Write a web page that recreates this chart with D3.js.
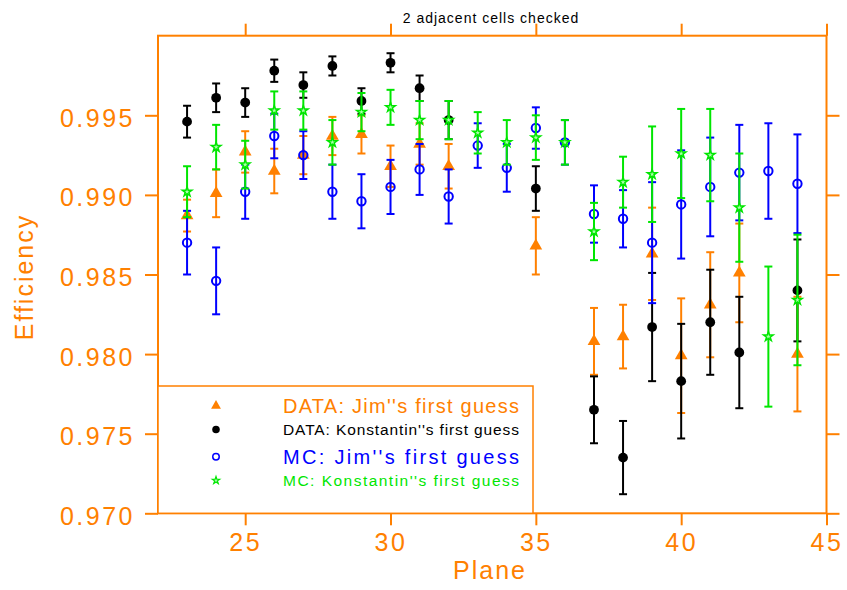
<!DOCTYPE html>
<html>
<head>
<meta charset="utf-8">
<script src="https://cdn.jsdelivr.net/npm/d3@7"></script>
<style>
  body { margin: 0; background: #fff; }
  svg { display: block; }
</style>
</head>
<body>
<script>
// plane numbers
var planes = [23, 24, 25, 26, 27, 28, 29, 30, 31, 32, 33, 34, 35, 36, 37, 38, 39, 40, 41, 42, 43, 44];

// DATA: Jim''s first guess
var dataJim    = [0.9887, 0.9901, 0.9927, 0.9915, 0.9925, 0.9937, 0.9938, 0.9918, 0.9932, 0.9918, null, null, 0.9868, null, 0.9808, 0.9811, 0.9863, 0.9799, 0.9831, 0.9851, null, 0.9800];
var dataJimErr = [0.0010, 0.0015, 0.0013, 0.0014, 0.0012, 0.0012, 0.0012, 0.0013, 0.0013, 0.0014, null, null, 0.0018, null, 0.0021, 0.0020, 0.0029, 0.0036, 0.0033, 0.0031, null, 0.0036];

// DATA: Konstantin''s first guess
var dataKon    = [0.9946, 0.9961, 0.9958, 0.9978, 0.9969, 0.9981, 0.9959, 0.9983, 0.9967, 0.9947, null, null, 0.9904, null, 0.9765, 0.9735, 0.9817, 0.9783, 0.9820, 0.9801, null, 0.9840];
var dataKonErr = [0.0010, 0.0009, 0.0009, 0.0007, 0.0008, 0.0006, 0.0008, 0.0006, 0.0008, 0.0012, null, null, 0.0014, null, 0.0021, 0.0023, 0.0034, 0.0036, 0.0033, 0.0035, null, 0.0032];

// MC: Jim''s first guess
var mcJim    = [0.9870, 0.9846, 0.9902, 0.9937, 0.9925, 0.9902, 0.9896, 0.9905, 0.9916, 0.9899, 0.9931, 0.9917, 0.9942, 0.9933, 0.9888, 0.9885, 0.9870, 0.9894, 0.9905, 0.9914, 0.9915, 0.9907];
var mcJimErr = [0.0020, 0.0021, 0.0017, 0.0014, 0.0015, 0.0017, 0.0017, 0.0017, 0.0016, 0.0017, 0.0014, 0.0015, 0.0013, 0.0014, 0.0018, 0.0018, 0.0038, 0.0034, 0.0031, 0.0030, 0.0030, 0.0031];

// MC: Konstantin''s first guess
var mcKon    = [0.9902, 0.9930, 0.9919, 0.9953, 0.9953, 0.9933, 0.9952, 0.9955, 0.9947, 0.9947, 0.9939, 0.9933, 0.9936, 0.9933, 0.9877, 0.9908, 0.9913, 0.9926, 0.9925, 0.9892, 0.9811, 0.9834];
var mcKonErr = [0.0016, 0.0014, 0.0015, 0.0012, 0.0012, 0.0014, 0.0012, 0.0011, 0.0012, 0.0012, 0.0013, 0.0014, 0.0014, 0.0014, 0.0018, 0.0016, 0.0030, 0.0028, 0.0029, 0.0034, 0.0044, 0.0041];

var xTicks = [25, 30, 35, 40, 45];
var yTicks = [0.970, 0.975, 0.980, 0.985, 0.990, 0.995];

var orange = "#ff8000";
var font = "'Liberation Sans', Arial, sans-serif";

var svgWidth = 847;
var svgHeight = 590;

var svg = d3.select("body").append("svg").attr("width", svgWidth).attr("height", svgHeight);

var x = d3.scaleLinear().domain([22, 45]).range([158, 826.5]);
var y = d3.scaleLinear().domain([0.970, 1.000]).range([513.3, 35.7]);

// frame
svg.append("rect")
    .attr("x", x(22)).attr("y", y(1.0))
    .attr("width", x(45) - x(22)).attr("height", y(0.970) - y(1.0))
    .attr("fill", "none").attr("stroke", orange).attr("stroke-width", 2);

// axes
function styleAxis(g) {
    g.select(".domain").remove();
    g.selectAll("line").attr("stroke", orange).attr("stroke-width", 2);
    g.selectAll("text")
        .attr("fill", orange)
        .style("font-family", font)
        .style("font-size", "25px")
        .style("letter-spacing", "2.5px");
}

svg.append("g").attr("transform", "translate(0," + y(0.970) + ")")
    .call(d3.axisBottom(x).tickValues(xTicks).tickSize(12).tickPadding(8).tickFormat(d3.format("d")))
    .call(styleAxis);

svg.append("g").attr("transform", "translate(0," + y(1.0) + ")")
    .call(d3.axisTop(x).tickValues(xTicks).tickSize(12).tickFormat(""))
    .call(styleAxis);

svg.append("g").attr("transform", "translate(" + x(22) + ",0)")
    .call(d3.axisLeft(y).tickValues(yTicks).tickSize(13).tickPadding(10).tickFormat(d3.format(".3f")))
    .call(styleAxis)
    .selectAll("text").attr("dy", "0.44em");

svg.append("g").attr("transform", "translate(" + x(45) + ",0)")
    .call(d3.axisRight(y).tickValues(yTicks).tickSize(13).tickFormat(""))
    .call(styleAxis);

// axis titles
svg.append("text")
    .attr("x", 490).attr("y", 579)
    .attr("text-anchor", "middle")
    .attr("fill", orange)
    .style("font-family", font).style("font-size", "25px").style("letter-spacing", "2px")
    .text("Plane");

svg.append("text")
    .attr("transform", "translate(33,277) rotate(-90)")
    .attr("text-anchor", "middle")
    .attr("fill", orange)
    .style("font-family", font).style("font-size", "25px").style("letter-spacing", "2px")
    .text("Efficiency");

svg.append("text")
    .attr("x", 491).attr("y", 23)
    .attr("text-anchor", "middle")
    .attr("fill", "black")
    .style("font-family", font).style("font-size", "14px").style("letter-spacing", "1px")
    .text("2 adjacent cells checked");

// series
var series = [
    { name: "DATA: Jim''s first guess", values: dataJim, errors: dataJimErr, color: orange, symbol: d3.symbolTriangle, size: 70, fill: orange, fontSize: 20, baseline: 413 },
    { name: "DATA: Konstantin''s first guess", values: dataKon, errors: dataKonErr, color: "black", symbol: d3.symbolCircle, size: 75, fill: "black", fontSize: 15.5, baseline: 435 },
    { name: "MC: Jim''s first guess", values: mcJim, errors: mcJimErr, color: "#0000ff", symbol: d3.symbolCircle, size: 55, fill: "none", fontSize: 20, baseline: 464 },
    { name: "MC: Konstantin''s first guess", values: mcKon, errors: mcKonErr, color: "#00e600", symbol: d3.symbolStar, size: 28, fill: "#aaffaa", fontSize: 15.5, baseline: 486 }
];

series.forEach(function(s) {
    var points = planes.map(function(p, i) {
        return { plane: p, value: s.values[i], err: s.errors[i] };
    }).filter(function(d) { return d.value !== null; });

    var g = svg.append("g");

    // error bars
    g.selectAll(".bar").data(points).join("line")
        .attr("x1", function(d) { return x(d.plane); })
        .attr("x2", function(d) { return x(d.plane); })
        .attr("y1", function(d) { return y(d.value + d.err); })
        .attr("y2", function(d) { return y(d.value - d.err); })
        .attr("stroke", s.color).attr("stroke-width", 2);

    [1, -1].forEach(function(sign) {
        g.selectAll(".cap" + sign).data(points).enter().append("line")
            .attr("x1", function(d) { return x(d.plane) - 4; })
            .attr("x2", function(d) { return x(d.plane) + 4; })
            .attr("y1", function(d) { return y(d.value + sign * d.err); })
            .attr("y2", function(d) { return y(d.value + sign * d.err); })
            .attr("stroke", s.color).attr("stroke-width", 2);
    });

    // markers
    g.selectAll(".marker").data(points).enter().append("path")
        .attr("transform", function(d) { return "translate(" + x(d.plane) + "," + y(d.value) + ")"; })
        .attr("d", d3.symbol().type(s.symbol).size(s.size))
        .attr("fill", s.fill)
        .attr("stroke", s.fill === "none" || s.symbol === d3.symbolStar ? s.color : "none")
        .attr("stroke-width", s.symbol === d3.symbolStar ? 1.5 : 2);
});

// legend
svg.append("rect")
    .attr("x", x(22)).attr("y", 386)
    .attr("width", 533 - x(22)).attr("height", y(0.970) - 386)
    .attr("fill", "white").attr("stroke", orange).attr("stroke-width", 1.5);

series.forEach(function(s) {
    var my = s.baseline - s.fontSize * 0.36;
    svg.append("path")
        .attr("transform", "translate(216," + my + ")")
        .attr("d", d3.symbol().type(s.symbol).size(s.size * 0.6))
        .attr("fill", s.fill)
        .attr("stroke", s.fill === "none" || s.symbol === d3.symbolStar ? s.color : "none")
        .attr("stroke-width", s.symbol === d3.symbolStar ? 1.2 : 1.5);

    svg.append("text")
        .attr("x", 283).attr("y", s.baseline)
        .attr("fill", s.color)
        .attr("textLength", 236).attr("lengthAdjust", "spacing")
        .style("font-family", font).style("font-size", s.fontSize + "px")
        .text(s.name);
});
</script>
</body>
</html>
